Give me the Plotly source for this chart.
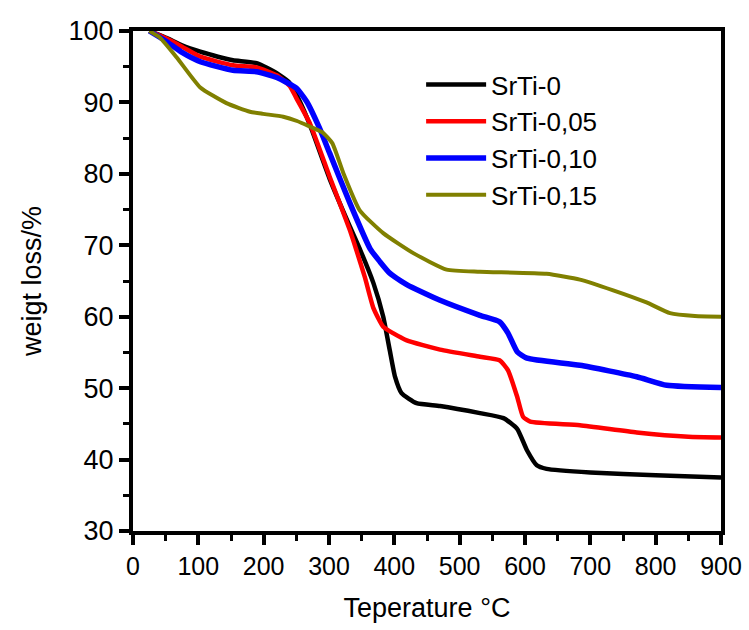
import plotly.graph_objects as go

names = ["SrTi-0", "SrTi-0,05", "SrTi-0,10", "SrTi-0,15"]
colors = ["#000000", "#ff0000", "#0000ff", "#808000"]

t_0 = [25, 52, 75, 103, 130, 153, 189, 220, 240, 255, 271, 301, 332, 348, 368, 383, 393, 401, 411, 434, 470, 531, 567, 588, 603, 618, 633, 700, 800, 900]
w_0 = [100, 99.0, 98.0, 97.1, 96.4, 95.9, 95.5, 94.1, 92.7, 90.2, 86.8, 79.3, 72.6, 69.3, 64.7, 60.0, 55.3, 51.6, 49.3, 47.9, 47.5, 46.5, 45.8, 44.3, 41.3, 39.2, 38.7, 38.2, 37.8, 37.5]

t_05 = [25, 50, 75, 103, 153, 189, 220, 240, 250, 271, 301, 332, 342, 355, 368, 383, 398, 419, 470, 531, 561, 574, 588, 597, 608, 684, 771, 850, 900]
w_05 = [100, 99.0, 97.8, 96.4, 95.2, 94.9, 93.8, 92.3, 90.6, 87.0, 79.6, 72.1, 69.3, 65.5, 61.2, 58.6, 57.7, 56.7, 55.4, 54.4, 53.9, 52.5, 48.8, 46.0, 45.3, 44.8, 43.8, 43.2, 43.1]

t_10 = [25, 50, 75, 103, 153, 189, 220, 250, 266, 285, 301, 332, 363, 378, 393, 419, 470, 531, 561, 574, 588, 603, 684, 771, 817, 900]
w_10 = [100, 98.6, 97.0, 95.7, 94.5, 94.3, 93.5, 92.0, 90.1, 86.5, 82.9, 75.9, 69.5, 67.7, 66.1, 64.5, 62.3, 60.2, 59.3, 57.7, 55.1, 54.2, 53.2, 51.6, 50.4, 50.1]

t_15 = [25, 41, 67, 103, 143, 179, 199, 230, 251, 271, 290, 305, 322, 347, 383, 429, 480, 531, 633, 684, 735, 786, 822, 860, 900]
w_15 = [100, 99.1, 96.3, 92.1, 89.9, 88.7, 88.4, 88.0, 87.4, 86.6, 85.8, 84.3, 80.1, 74.9, 71.7, 68.9, 66.6, 66.3, 66.0, 65.2, 63.7, 62.0, 60.5, 60.1, 60.0]

series_t = [t_0, t_05, t_10, t_15]
series_w = [w_0, w_05, w_10, w_15]
widths = [4.5, 4.5, 5.5, 4]

x_ticks = [0, 100, 200, 300, 400, 500, 600, 700, 800, 900]
y_ticks = [30, 40, 50, 60, 70, 80, 90, 100]

FONT = "Liberation Sans, Arial, sans-serif"

fig = go.Figure()
for n, c, t, w, lw in zip(names, colors, series_t, series_w, widths):
    fig.add_trace(go.Scatter(x=t, y=w, mode="lines", name=n,
                             line=dict(color=c, width=lw, shape="spline", smoothing=0.5)))

axis_common = dict(
    showline=True, linecolor="black", linewidth=4, mirror=True,
    ticks="outside", ticklen=10, tickwidth=4, tickcolor="black",
    showgrid=False, zeroline=False, automargin=False,
)

fig.update_xaxes(range=[0, 900], tickvals=x_ticks,
                 tickfont=dict(family=FONT, size=25, color="black"),
                 minor=dict(ticks="outside", ticklen=6, tickwidth=3, dtick=50, tickcolor="black", showgrid=False),
                 title=dict(text="Teperature °C", font=dict(family=FONT, size=27, color="black"), standoff=20),
                 **axis_common)
fig.update_yaxes(range=[30, 100], tickvals=y_ticks,
                 tickfont=dict(family=FONT, size=27, color="black"),
                 minor=dict(ticks="outside", ticklen=6, tickwidth=3, dtick=5, tickcolor="black", showgrid=False),
                 title=dict(text="weigt loss/%", font=dict(family=FONT, size=27, color="black"), standoff=20),
                 **axis_common)

fig.update_layout(
    width=749, height=630,
    margin=dict(l=133, r=28, t=31, b=99),
    plot_bgcolor="white", paper_bgcolor="white",
    legend=dict(x=0.49, y=0.94, xanchor="left", yanchor="top",
                font=dict(family=FONT, size=26, color="black"),
                bgcolor="rgba(0,0,0,0)", tracegroupgap=0, itemwidth=60),
    showlegend=True,
)

fig.write_html("out.html")
